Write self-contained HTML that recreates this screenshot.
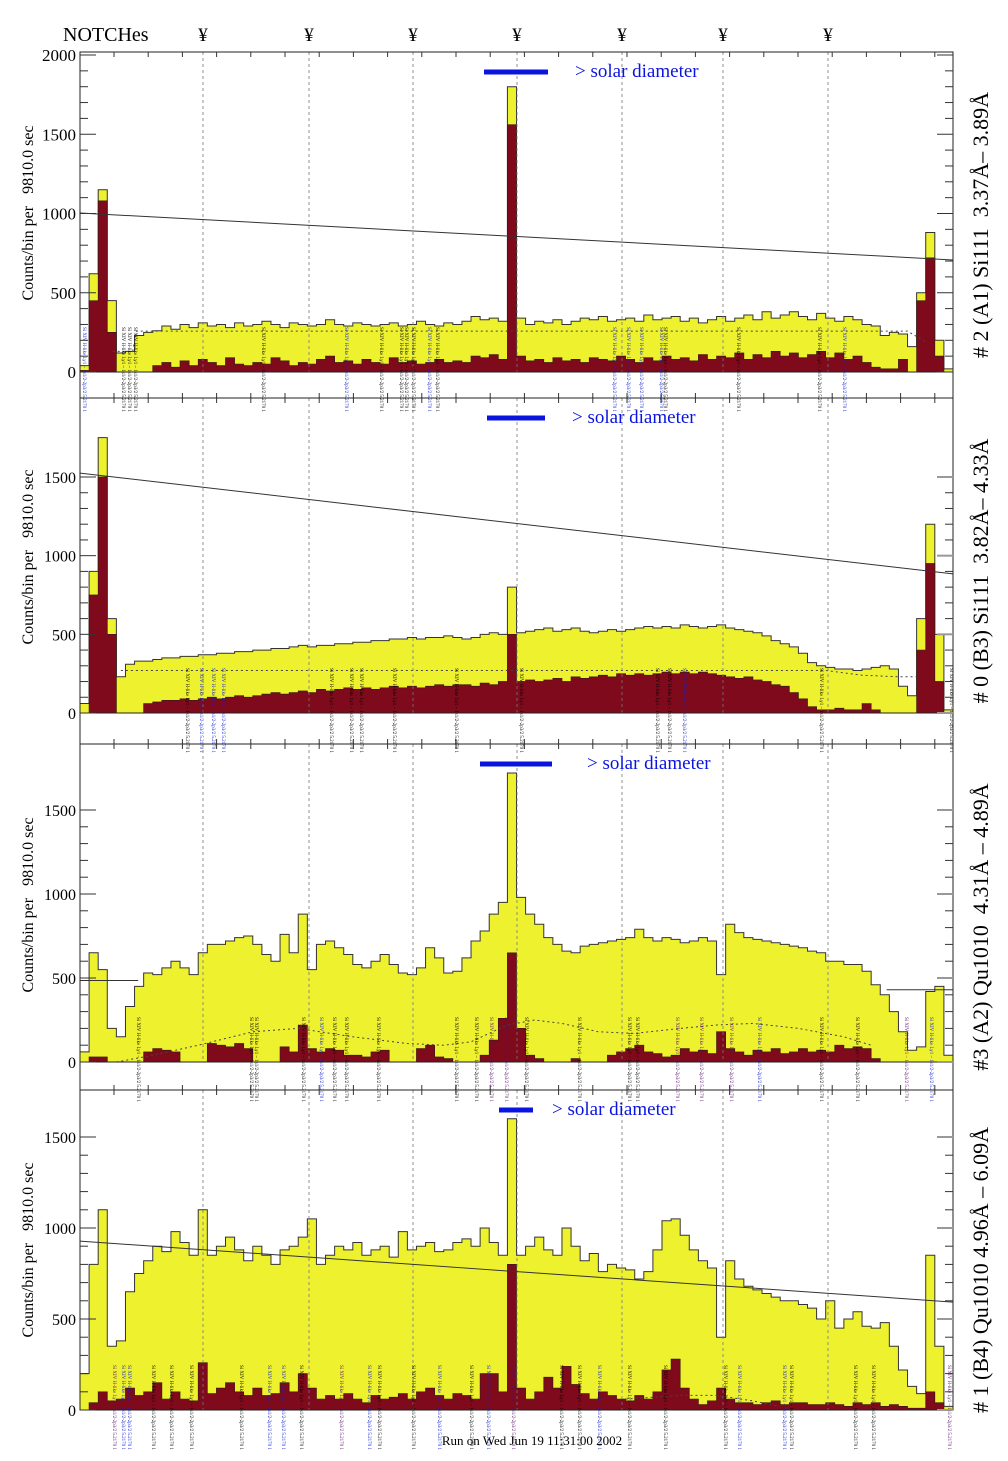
<!DOCTYPE html>
<html><head><meta charset="utf-8"><title>NOTCHes spectra</title>
<style>
html,body{margin:0;padding:0;background:#fff;}
svg{display:block;}
text{font-family:"Liberation Serif",serif;}
.pre{white-space:pre;}
</style></head>
<body>
<svg id="chart" width="1008" height="1461" viewBox="0 0 1008 1461" xmlns="http://www.w3.org/2000/svg">
<rect x="0" y="0" width="1008" height="1461" fill="#fff"/>
</svg>
<script>
// ---------- data ----------
const notchX = [203, 309, 413, 517, 622, 723, 828];
const p1Ticks = [0, 500, 1000, 1500, 2000];
const p2Ticks = [0, 500, 1000, 1500];
const p3Ticks = [0, 500, 1000, 1500];
const p4Ticks = [0, 500, 1000, 1500];

const p1Yellow = [40,620,1150,450,120,130,230,250,260,290,
270,300,280,310,290,300,280,310,290,300,
320,300,280,310,300,290,300,330,300,290,
310,300,290,300,310,290,300,320,300,290,
310,300,320,350,330,340,320,1800,340,300,
320,310,330,300,320,340,330,350,320,330,
340,320,360,330,340,350,320,340,310,330,
350,320,340,360,330,380,340,360,380,350,
330,370,340,320,350,330,300,290,230,250,
240,160,500,880,200,20];
const p1Red = [10,450,1080,250,0,0,0,0,40,60,
30,70,40,80,60,40,90,50,40,60,
50,90,70,40,60,50,80,100,60,70,
50,80,60,50,90,60,70,50,60,80,
60,70,60,100,90,110,80,1560,100,70,
80,60,90,70,80,60,90,80,70,100,
80,60,90,70,100,80,90,70,110,80,
100,90,120,80,110,90,130,100,120,90,
110,130,90,120,80,100,60,30,20,20,
80,0,450,720,100,0];

const p2Yellow = [60,900,1750,600,230,310,330,330,340,350,
350,360,360,370,370,380,380,390,390,400,
400,410,410,420,430,420,430,430,440,440,
450,450,460,460,470,470,480,470,480,480,
490,480,470,480,500,510,500,800,510,520,
530,540,520,530,540,520,510,520,530,520,
530,540,550,540,550,540,560,550,540,550,
560,540,530,520,510,490,460,440,420,380,
320,300,290,280,280,270,280,290,300,280,
170,110,600,1200,500,20];
const p2Red = [0,750,1500,500,0,0,0,60,70,80,
80,90,80,90,100,90,100,110,100,110,
120,130,120,130,140,130,150,140,150,160,
150,160,150,160,170,160,170,160,170,180,
170,180,180,170,190,180,200,500,200,210,
200,210,220,200,230,220,230,240,230,250,
240,250,240,250,260,250,260,250,260,250,
240,230,220,230,210,200,180,170,130,90,
40,20,20,30,20,20,60,20,0,0,
0,0,400,950,200,0];

const p3Yellow = [60,650,550,200,150,330,450,530,520,560,
600,560,520,650,700,700,720,740,750,700,
640,600,760,650,880,550,700,720,680,640,
580,560,600,640,580,530,520,560,680,620,
530,540,620,720,780,880,950,1720,980,880,
820,740,700,660,650,690,700,710,720,730,
740,790,740,720,740,730,710,720,740,720,
520,820,770,740,730,720,710,700,690,680,
660,650,600,600,580,580,540,460,400,300,
180,70,90,420,450,40];
const p3Red = [0,30,30,0,0,0,0,60,80,70,
60,0,0,0,110,100,90,110,80,0,
0,0,90,60,220,80,60,80,70,40,
40,30,60,70,0,0,0,80,100,30,
20,0,0,0,40,130,260,650,200,40,
20,0,0,0,20,0,0,0,40,60,
80,100,60,50,30,40,80,60,70,50,
180,80,60,40,70,60,80,50,60,80,
60,70,60,100,80,90,80,20,0,0,
0,0,0,0,0,0];

const p4Yellow = [200,800,1100,350,380,650,750,820,900,870,
980,920,850,1100,850,900,950,880,820,900,
850,800,880,900,950,1050,800,850,900,880,
920,850,880,900,840,980,880,900,920,870,
880,920,940,900,1000,920,850,1600,850,900,
950,880,850,1000,900,820,860,760,800,780,
770,720,760,880,1040,1050,960,880,820,780,
400,820,720,680,660,640,620,600,600,580,
560,500,600,450,500,540,460,450,480,350,
220,130,90,850,350,20];
const p4Red = [0,40,100,50,60,120,80,100,150,60,
100,60,50,260,90,120,150,100,80,120,
80,90,150,100,200,120,60,80,60,90,
60,40,80,60,70,90,60,100,120,80,
60,90,80,60,200,200,100,800,120,60,
100,180,120,240,140,90,60,100,80,60,
50,80,60,100,220,280,120,60,30,50,
120,60,40,40,30,40,50,30,40,40,
30,30,40,30,20,40,30,40,20,30,
20,10,10,100,40,0];

const p1Line = [1003, 707];
const p2Line = [1525, 884];
const p4Line = [928, 593];
const p3Line = [485, 430];

const p1DotIdx = [3.6, 5.8, 6.2, 91, 93];
const p1DotVal = [130, 130, 258, 258, 190];
const p2DotIdx = [4.5, 82, 86, 90, 92];
const p2DotVal = [270, 270, 240, 230, 230];
const p3DotIdx = [4, 8, 13, 19, 24, 30, 36, 40, 43, 47, 50, 53, 57, 61, 66, 70, 74, 79, 84, 87];
const p3DotVal = [0, 40, 100, 180, 200, 150, 110, 100, 120, 220, 250, 230, 180, 170, 200, 220, 230, 200, 150, 100];
const p4DotIdx = [60, 66, 70, 74, 77];
const p4DotVal = [60, 80, 80, 50, 20];

const panelTitles = ["# 2 (A1) Si111  3.37\u00C5\u2013 3.89\u00C5",
  "# 0 (B3) Si111  3.82\u00C5\u2013 4.33\u00C5",
  "#3 (A2) Qu1010  4.31\u00C5 \u2013 4.89\u00C5",
  "# 1 (B4) Qu1010 4.96\u00C5 \u2013 6.09\u00C5"];

const p1LabX = [83,122,128,134,262,345,380,400,405,412,428,436,613,627,640,660,664,737,818,843];
const p1LabC = ['b','k','k','k','k','b','k','k','k','k','b','k','b','b','b','b','k','k','k','b'];
const p2LabX = [186,200,212,222,330,350,360,393,455,520,656,668,683,820,950];
const p2LabC = ['k','b','b','b','k','k','k','k','k','k','k','k','b','k','k'];
const p3LabX = [137,250,255,302,320,333,345,377,455,475,490,505,525,578,628,636,676,700,730,758,820,856,905,930];
const p3LabC = ['k','k','k','k','b','k','k','k','k','k','p','p','k','k','k','k','p','p','p','b','k','k','p','b'];
const p4LabX = [113,122,128,152,170,190,240,268,282,300,340,368,378,412,438,470,487,512,560,578,598,628,664,724,738,783,790,854,872,948];
const p4LabC = ['p','b','b','k','k','k','k','b','b','k','p','b','k','k','b','k','b','p','k','k','b','k','k','k','b','b','k','k','k','p'];

// ---------- geometry ----------
const X0 = 80, X1 = 953;
const NS = 'http://www.w3.org/2000/svg';
const svg = document.getElementById('chart');
function mk(tag, parent) { const e = document.createElementNS(NS, tag); parent.appendChild(e); return e; }
function setA(e, o) { for (const k in o) e.setAttribute(k, o[k]); }

const panels = [
  {top:52, zero:372, bottom:398, ymax:2000, ymaxY:55, Y:p1Yellow, R:p1Red, ticks:p1Ticks, line:p1Line, flat:false, di:p1DotIdx, dv:p1DotVal, labX:p1LabX, labC:p1LabC, bar:[484,548], barY:72, solX:575, yl:213, tl:225, fam:'"Liberation Serif",serif'},
  {top:398, zero:713, bottom:744, ymax:1500, ymaxY:477, Y:p2Yellow, R:p2Red, ticks:p2Ticks, line:p2Line, flat:false, di:p2DotIdx, dv:p2DotVal, labX:p2LabX, labC:p2LabC, bar:[487,545], barY:418, solX:572, yl:557, tl:571, fam:'"DejaVu Sans",sans-serif'},
  {top:744, zero:1062, bottom:1090, ymax:1500, ymaxY:810, Y:p3Yellow, R:p3Red, ticks:p3Ticks, line:p3Line, flat:true, di:p3DotIdx, dv:p3DotVal, labX:p3LabX, labC:p3LabC, bar:[480,552], barY:764, solX:587, yl:905, tl:927, fam:'"DejaVu Sans",sans-serif'},
  {top:1090, zero:1410, bottom:1410, ymax:1500, ymaxY:1137, Y:p4Yellow, R:p4Red, ticks:p4Ticks, line:p4Line, flat:false, di:p4DotIdx, dv:p4DotVal, labX:p4LabX, labC:p4LabC, bar:[499,533], barY:1110, solX:552, yl:1250, tl:1270, fam:'"DejaVu Sans",sans-serif'}
];
const colMap = {k:'#000', b:'#1020d0', p:'#5a106a'};

const hdr = mk('text', svg);
setA(hdr, {x:63, y:41, 'font-size':20});
hdr.textContent = 'NOTCHes';


notchX.forEach(function(nx){
  const t = mk('text', svg);
  setA(t, {x:nx, y:41, 'font-size':19, 'text-anchor':'middle'});
  t.textContent = '\u00A5';
  
  
});

panels.forEach(function(P, pi){
  const g = mk('g', svg);
  
  
  const n = P.Y.length;
  const xs = function(i){ return X0 + i * (X1 - X0) / n; };
  const ys = function(v){ return P.zero - v * (P.zero - P.ymaxY) / P.ymax; };

  function stepPath(arr){
    let d = 'M' + xs(0) + ' ' + P.zero;
    for (let i = 0; i < arr.length; i++) {
      d += ' L' + xs(i).toFixed(2) + ' ' + ys(arr[i]).toFixed(2) + ' L' + xs(i + 1).toFixed(2) + ' ' + ys(arr[i]).toFixed(2);
    }
    d += ' L' + xs(arr.length) + ' ' + P.zero + ' Z';
    return d;
  }
  const yp = mk('path', g);
  setA(yp, {d:stepPath(P.Y), fill:'#eef22e', stroke:'#333', 'stroke-width':1});
  
  
  const rp = mk('path', g);
  setA(rp, {d:stepPath(P.R), fill:'#7f0a1b', stroke:'#3a1a10', 'stroke-width':0.7});
  
  

  let dd = '';
  for (let k = 0; k < P.di.length; k++) dd += (k ? ' L' : 'M') + xs(P.di[k]).toFixed(1) + ' ' + ys(P.dv[k]).toFixed(1);
  const dc = mk('path', g);
  setA(dc, {d:dd, fill:'none', stroke:'#444', 'stroke-width':1, 'stroke-dasharray':'2,3'});
  
  

  notchX.forEach(function(nx){
    const l = mk('line', g);
    setA(l, {x1:nx, x2:nx, y1:P.top, y2:P.zero, stroke:'#777', 'stroke-width':0.8, 'stroke-dasharray':'3,3'});
    
    
  });

  if (P.flat) {
    const l1 = mk('line', g);
    setA(l1, {x1:X0, x2:xs(6.4), y1:ys(P.line[0]), y2:ys(P.line[0]), stroke:'#333', 'stroke-width':1});
    
    
    const l2 = mk('line', g);
    setA(l2, {x1:xs(88.7), x2:X1, y1:ys(P.line[1]), y2:ys(P.line[1]), stroke:'#333', 'stroke-width':1});
    
    
  } else {
    const l = mk('line', g);
    setA(l, {x1:X0, x2:X1, y1:ys(P.line[0]), y2:ys(P.line[1]), stroke:'#333', 'stroke-width':1});
    
    
  }

  P.labX.forEach(function(lx, k){
    const t = mk('text', g);
    const y0 = P.zero - 45;
    setA(t, {x:0, y:0, 'font-size':5, fill:colMap[P.labC[k]], transform:'translate(' + lx + ',' + y0 + ') rotate(90)', 'font-family':'"DejaVu Sans",sans-serif'});
    t.textContent = 'Si XIV H-like Ly1 \u2013 1s1/2-2p3/2 5.2170  1';
    
    
  });

  const fr = mk('rect', g);
  setA(fr, {x:X0, y:P.top, width:X1 - X0, height:P.bottom - P.top, fill:'none', stroke:'#222', 'stroke-width':1});
  
  
  const zl = mk('line', g);
  setA(zl, {x1:X0, x2:X1, y1:P.zero, y2:P.zero, stroke:'#222', 'stroke-width':1});
  
  

  for (let v = 0; v <= P.ymax; v += 100) {
    const yy = ys(v);
    if (yy < P.top - 0.5) break;
    const len = (v % 500 === 0) ? 16 : 8;
    const a = mk('line', g);
    setA(a, {x1:X0, x2:X0 + len, y1:yy, y2:yy, stroke:'#333', 'stroke-width':1});
    
    
    const b = mk('line', g);
    setA(b, {x1:X1, x2:X1 - len, y1:yy, y2:yy, stroke:(v % 500 === 0 && pi > 0) ? '#999' : '#333', 'stroke-width':(v % 500 === 0 && pi > 0) ? 2 : 1});
    
    
  }
  for (let xx = X0 + 34; xx < X1; xx += 34.2) {
    const a = mk('line', g);
    setA(a, {x1:xx, x2:xx, y1:P.top, y2:P.top + 5, stroke:'#333', 'stroke-width':1});
    
    
    if (P.bottom > P.zero) {
      const b = mk('line', g);
      setA(b, {x1:xx, x2:xx, y1:P.bottom, y2:P.bottom - 5, stroke:'#333', 'stroke-width':1});
      
      
    }
  }
  P.ticks.forEach(function(v){
    const t = mk('text', g);
    setA(t, {x:76, y:ys(v) + 6, 'font-size':pi === 0 ? 17 : 16, 'text-anchor':'end'});
    t.textContent = String(v);
    
    
  });

  const yt = mk('text', g);
  setA(yt, {x:0, y:0, 'font-size':16, 'text-anchor':'middle', 'class':'pre', transform:'translate(33,' + P.yl + ') rotate(-90)', 'font-family':P.fam});
  yt.textContent = 'Counts/bin per   9810.0 sec';
  
  

  const rt = mk('text', g);
  setA(rt, {x:0, y:0, 'font-size':22, 'text-anchor':'middle', 'class':'pre', transform:'translate(988,' + P.tl + ') rotate(-90)'});
  rt.textContent = panelTitles[pi];
  
  

  const sb = mk('line', g);
  setA(sb, {x1:P.bar[0], x2:P.bar[1], y1:P.barY, y2:P.barY, stroke:'#0a14e0', 'stroke-width':5});
  
  
  const st = mk('text', g);
  setA(st, {x:P.solX, y:P.barY + 5, 'font-size':19, fill:'#0a14e0'});
  st.textContent = '> solar diameter';
  
  
});

const foot = mk('text', svg);
setA(foot, {x:532, y:1445, 'font-size':13, 'text-anchor':'middle'});
foot.textContent = 'Run on Wed Jun 19 11:31:00 2002';


</script>
</body></html>
